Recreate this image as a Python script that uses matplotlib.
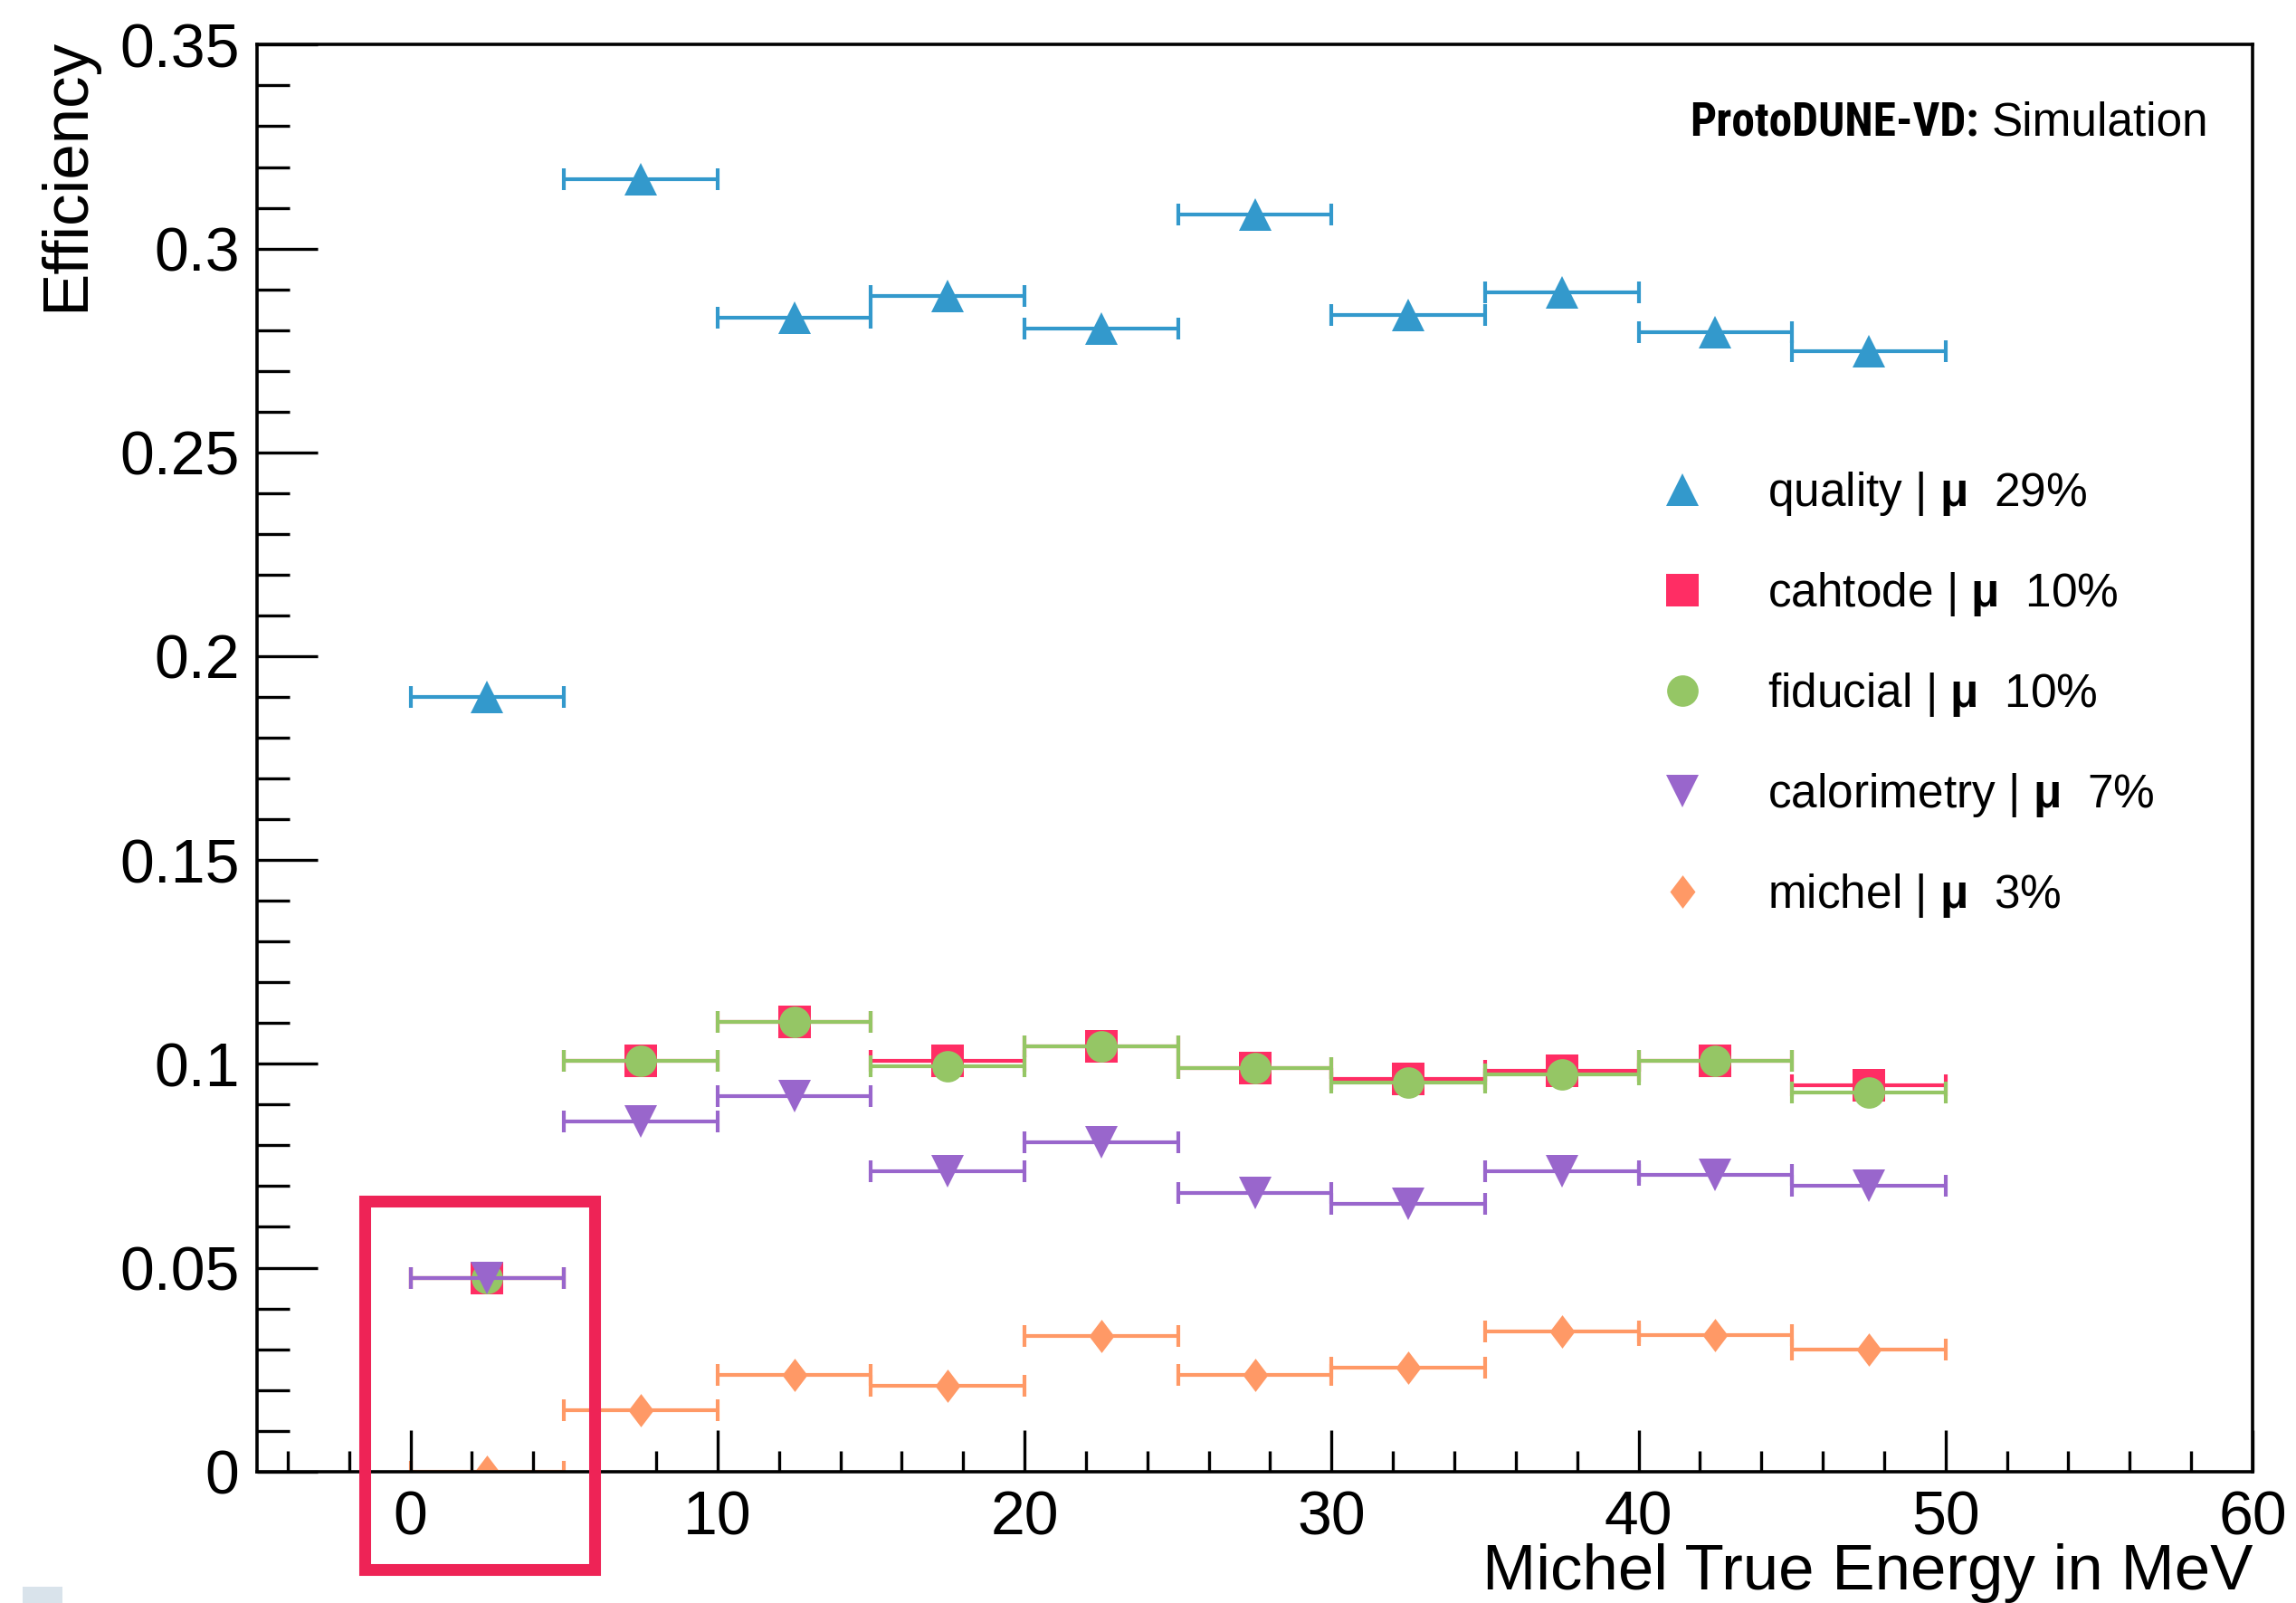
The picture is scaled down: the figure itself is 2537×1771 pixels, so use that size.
import matplotlib
matplotlib.use('Agg')
import matplotlib.pyplot as plt
from matplotlib.patches import Rectangle
from matplotlib.lines import Line2D
from matplotlib.ticker import MultipleLocator, FuncFormatter
import numpy as np

plt.rcParams['font.family'] = ['Liberation Sans', 'DejaVu Sans']
plt.rcParams['mathtext.fontset'] = 'custom'
plt.rcParams['mathtext.rm'] = 'Liberation Sans'
plt.rcParams['mathtext.bf'] = 'Liberation Sans:bold'
plt.rcParams['mathtext.it'] = 'Liberation Sans:italic'

# ---------------- data ----------------
bin_edges = [0, 5, 10, 15, 20, 25, 30, 35, 40, 45, 50]
quality = [0.1901, 0.3171, 0.2830, 0.2883, 0.2803, 0.3083, 0.2838, 0.2892, 0.2794, 0.2749]
cathode = [0.0474, 0.1007, 0.1103, 0.1008, 0.1043, 0.0990, 0.0964, 0.0982, 0.1008, 0.0947]
fiducial = [0.0474, 0.1007, 0.1103, 0.0994, 0.1043, 0.0990, 0.0955, 0.0973, 0.1008, 0.0929]
calorimetry = [0.0474, 0.0858, 0.0921, 0.0737, 0.0807, 0.0684, 0.0657, 0.0737, 0.0727, 0.0701]
michel = [0.0, 0.0150, 0.0237, 0.0211, 0.0333, 0.0238, 0.0254, 0.0343, 0.0334, 0.0300]
labels = ['quality | $\\mathbf{μ}$  29%',
          'cahtode | $\\mathbf{μ}$  10%',
          'fiducial | $\\mathbf{μ}$  10%',
          'calorimetry | $\\mathbf{μ}$  7%',
          'michel | $\\mathbf{μ}$  3%']
colors = ['#3399CC', '#FF2D64', '#95C665', '#9966CC', '#FF9966']
x_label = 'Michel True Energy in MeV'
y_label = 'Efficiency'

edges = np.array(bin_edges, dtype=float)
centers = 0.5 * (edges[:-1] + edges[1:])
halfw = 0.5 * (edges[1:] - edges[:-1])

diamond = [(0, 1), (0.76, 0), (0, -1), (-0.76, 0), (0, 1)]
markers = ['^', 's', 'o', 'v', diamond]
msizes = [26.5, 26, 25, 26.5, 26.5]
series = [quality, cathode, fiducial, calorimetry, michel]

fig = plt.figure(figsize=(25.37, 17.71), dpi=100)
fig.patch.set_facecolor('white')
ax = fig.add_axes([0.11195, 0.08204, 0.86914, 0.89007])

handles = []
for i, (vals, mk, ms, col) in enumerate(zip(series, markers, msizes, colors)):
    z = 1.2 + 0.2 * i
    ax.errorbar(centers, vals, xerr=halfw, fmt='none', ecolor=col,
                elinewidth=3.0, capsize=8.6, capthick=3.0, zorder=z)
    ax.plot(centers, vals, linestyle='none', marker=mk, color=col, ms=ms,
            mew=0, zorder=z + 0.05)
    handles.append(Line2D([], [], marker=mk, linestyle='none', color=col,
                          ms=ms, mew=0))

ax.set_xlim(-5, 60)
ax.set_ylim(0, 0.35)
ax.set_axisbelow(False)

ax.xaxis.set_major_locator(MultipleLocator(10))
ax.xaxis.set_minor_locator(MultipleLocator(2))
ax.yaxis.set_major_locator(MultipleLocator(0.05))
ax.yaxis.set_minor_locator(MultipleLocator(0.01))
fmt = FuncFormatter(lambda v, p: f'{v:g}' if abs(v) > 1e-9 else '0')
ax.xaxis.set_major_formatter(fmt)
ax.yaxis.set_major_formatter(fmt)

ax.tick_params(axis='both', which='both', direction='in', top=False, right=False,
               width=2.4, labelsize=49, pad=14)
ax.tick_params(axis='y', which='major', length=48)
ax.tick_params(axis='y', which='minor', length=26)
ax.tick_params(axis='x', which='major', length=33)
ax.tick_params(axis='x', which='minor', length=16.5)
for sp in ax.spines.values():
    sp.set_linewidth(2.6)
    sp.set_zorder(3)

ax.text(1.0, -0.0825, x_label, transform=ax.transAxes, ha='right',
        va='baseline', fontsize=51)
ax.text(-0.0871, 1.005, y_label, transform=ax.transAxes, rotation=90,
        rotation_mode='anchor', ha='right', va='baseline', fontsize=51)

sim = ax.text(0.9778, 0.9365, 'Simulation', transform=ax.transAxes,
              ha='right', va='baseline', fontsize=37)
ax.annotate('ProtoDUNE-VD:', xy=(0, 0), xycoords=sim, xytext=(-10, 0),
            textcoords='offset points', ha='right', va='bottom', fontsize=37,
            fontweight='bold', fontstretch='condensed',
            family=['Roboto Condensed', 'Liberation Sans Narrow',
                    'Liberation Sans'])

ax.legend(handles, labels, loc='upper left', bbox_to_anchor=(0.7028, 0.702),
          frameon=False, fontsize=37, handlelength=1.0, handletextpad=1.33,
          labelspacing=1.13, borderpad=0, borderaxespad=0, handleheight=0.7)

# highlight box (annotation) in figure coordinates
fig.add_artist(Rectangle((0.1589, 0.0209), 0.1001, 0.2300, fill=False,
                         edgecolor='#EE2356', lw=9.4, joinstyle='miter',
                         transform=fig.transFigure, zorder=10))
fig.add_artist(Rectangle((25 / 2537, 0), 44 / 2537, 18 / 1771,
                         facecolor='#D9E3EB', edgecolor='none',
                         transform=fig.transFigure, zorder=10))

fig.savefig('out.png', dpi=100)
